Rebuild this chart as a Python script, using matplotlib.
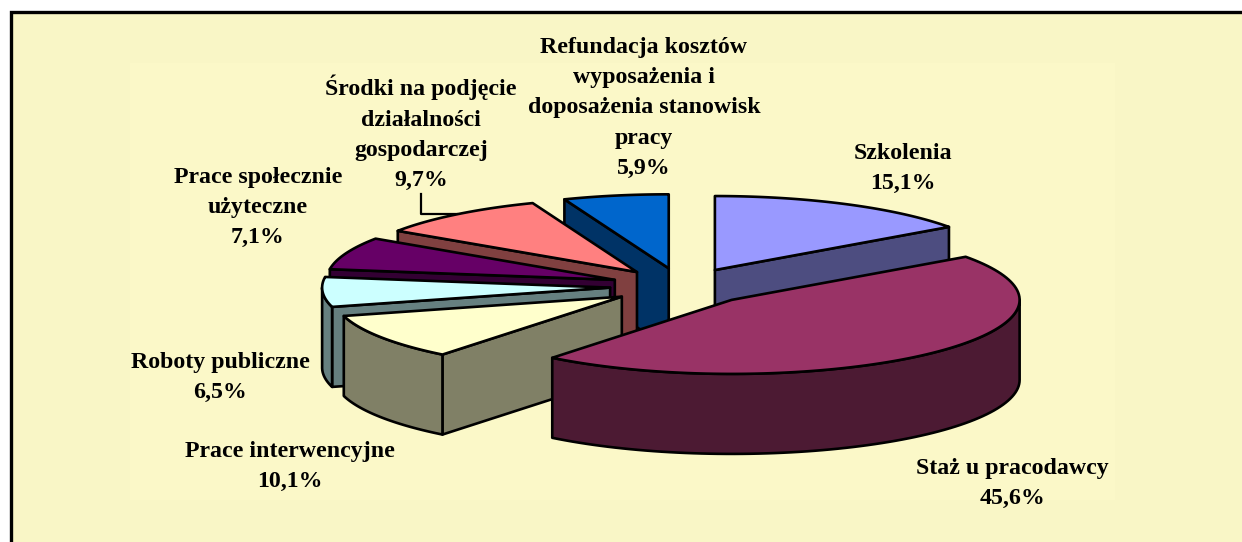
import numpy as np
import matplotlib
matplotlib.use('Agg')
import matplotlib.pyplot as plt
from matplotlib.patches import Polygon, Rectangle

# data, clockwise from 12 o'clock
labels = ['Szkolenia', 'Staż u pracodawcy', 'Prace interwencyjne', 'Roboty publiczne',
          'Prace społecznie\nużyteczne', 'Środki na podjęcie\ndziałalności\ngospodarczej',
          'Refundacja kosztów\nwyposażenia i\ndoposażenia stanowisk\npracy']
values = [15.1, 45.6, 10.1, 6.5, 7.1, 9.7, 5.9]
top_colors = ['#9999FF', '#993366', '#FFFFCC', '#CCFFFF', '#660066', '#FF8080', '#0066CC']
side_colors = ['#4D4D80', '#4C1A33', '#808066', '#668080', '#330033', '#804040', '#003366']

# pie geometry in pixels
cx, cy = 682, 286.5
rx, ry = 288, 74
depth = 80
explode = 0.25
line_w = 1.9

# label centres
label_pos = [(903, 168.5), (1012, 483.5), (290, 466.5), (220, 377.5), (258, 207.5), (421, 133), (644, 108)]

fig = plt.figure(figsize=(12.42, 5.42), dpi=100)
ax = fig.add_axes([0, 0, 1, 1])
ax.set_xlim(0, 1242)
ax.set_ylim(542, 0)
ax.axis('off')

# background and frame
ax.add_patch(Rectangle((10.5, 11.5), 1240, 540, facecolor='#F9F6C6', edgecolor='black', linewidth=2.4, zorder=0))
ax.add_patch(Rectangle((130, 63), 985, 437, facecolor='#FBF8C8', edgecolor='none', zorder=0.5))


def point(ox, oy, deg):
    a = np.radians(deg)
    return ox + rx * np.sin(a), oy - ry * np.cos(a)


def draw_poly(xs, ys, color, z):
    ax.add_patch(Polygon(np.column_stack([xs, ys]), closed=True, facecolor=color, edgecolor='black',
                         linewidth=line_w, joinstyle='round', zorder=z))


edges = np.concatenate([[0], np.cumsum(values) / np.sum(values) * 360])
slices = [(edges[i], edges[i + 1], i) for i in range(len(values))]

# back slices first, then round to the big front one
draw_order = [6, 0, 5, 4, 3, 2, 1]
z = 2
for i in draw_order:
    a0, a1, _ = slices[i]
    mid = (a0 + a1) / 2
    ox, oy = point(cx, cy, mid)
    ox = cx + explode * (ox - cx)
    oy = cy + explode * (oy - cy)

    # radial wall that faces the viewer
    if a0 >= 180:
        px, py = point(ox, oy, a0)
        draw_poly([ox, px, px, ox], [oy, py, py + depth, oy + depth], side_colors[i], z)
    if a1 <= 180:
        px, py = point(ox, oy, a1)
        draw_poly([ox, px, px, ox], [oy, py, py + depth, oy + depth], side_colors[i], z)

    # outer wall, only the front half of the ellipse
    lo, hi = max(a0, 90), min(a1, 270)
    if lo < hi:
        t = np.linspace(lo, hi, 80)
        ax_x, ax_y = point(ox, oy, t)
        draw_poly(np.concatenate([ax_x, ax_x[::-1]]), np.concatenate([ax_y, ax_y[::-1] + depth]),
                  side_colors[i], z)

    # top surface
    t = np.linspace(a0, a1, 100)
    tx, ty = point(ox, oy, t)
    draw_poly(np.concatenate([[ox], tx]), np.concatenate([[oy], ty]), top_colors[i], z + 0.5)
    z += 1

# leader line for Środki
ax.plot([420.5, 420.5, 457], [194, 214, 214], color='black', lw=1.6, zorder=1)

for lab, v, (lx, ly) in zip(labels, values, label_pos):
    txt = lab + '\n' + f'{v:.1f}%'.replace('.', ',')
    ax.text(lx, ly, txt, ha='center', va='center', family='Liberation Serif', weight='bold',
            fontsize=17.2, linespacing=1.58, color='black', zorder=20)

plt.savefig('out.png', dpi=100, facecolor='white')
